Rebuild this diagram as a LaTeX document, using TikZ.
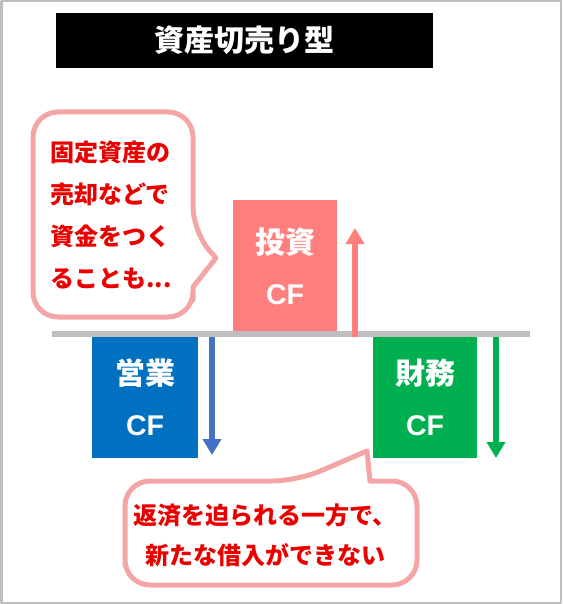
\documentclass[tikz,border=0pt]{standalone}
\usepackage{fontspec}
\newfontfamily\cjk{Noto Sans CJK JP}
\newfontfamily\latin{Liberation Sans}
\usetikzlibrary{arrows.meta,positioning}
\definecolor{framegray}{RGB}{191,191,191}
\definecolor{balloon}{RGB}{244,166,166}
\definecolor{investred}{RGB}{255,127,127}
\definecolor{operblue}{RGB}{0,112,192}
\definecolor{operarrow}{RGB}{68,114,196}
\definecolor{financegreen}{RGB}{0,176,80}
\definecolor{notered}{RGB}{235,0,0}
\newcommand{\cflabel}[1]{#1\\{\latin\fontsize{28.5}{51}\selectfont CF}}
\tikzset{
	cfbox/.style={minimum width=104pt, minimum height=121pt, inner sep=0pt, align=center, text=white, font=\cjk\bfseries\fontsize{30}{51}\selectfont},
	flow/.style={line width=6pt, -{Triangle[width=18pt,length=16pt]}},
	balloontext/.style={text=notered, inner sep=0pt, font=\cjk\bfseries\fontsize{24}{42}\selectfont},
	balloonline/.style={draw=balloon, line width=5pt, fill=white}
}
\begin{document}
\begin{tikzpicture}[x=1pt, y=-1pt, line join=round]
	\useasboundingbox (0,0) rectangle (562,604);
	\draw[framegray, line width=2.5pt] (1.25,1.25) rectangle (560.75,602.75);
	% title
	\node[fill=black, minimum width=377pt, minimum height=55pt, inner sep=0pt, text=white, font=\cjk\bfseries\fontsize{30}{36}\selectfont] (title) at (244.5,40.5) {資産切売り型};
	% balloons
	\draw[balloonline, rounded corners=25pt] (33,215) |- (193,112) -- (193,232) [sharp corners] -- (216,258) -- (193,287) -- (193,300) [rounded corners=25pt] |- (33,317) -- cycle;
	\draw[balloonline, rounded corners=25pt] (125,530) |- (297,481) [sharp corners] -- (367,451) -- (370,481) -- (385,481) [rounded corners=25pt] -| (417,585) -| (125,540) -- cycle;
	\node[balloontext, align=left] (sellnote) at (111,215) {固定資産の\\売却などで\\資金をつく\\ることも...};
	\node[balloontext, align=center, font=\cjk\bfseries\fontsize{24}{40}\selectfont] (loannote) at (265,535) {返済を迫られる一方で、\\新たな借入ができない};
	% cash flow boxes
	\node[cfbox, fill=investred, minimum height=132pt] (invest) at (285,266) {\cflabel{投資}};
	\node[cfbox, fill=operblue, minimum width=106pt] (oper) at (145,397.5) {\cflabel{営業}};
	\node[cfbox, fill=financegreen] (finance) at (425,397.5) {\cflabel{財務}};
	% axis and arrows
	\coordinate (axisL) at (52,334);
	\coordinate (axisR) at (530,334);
	\draw[framegray, line width=6pt] (axisL) -- (axisR);
	\coordinate (investS) at (355,337);
	\coordinate (investE) at (355,228);
	\coordinate (operS) at (212,337);
	\coordinate (operE) at (212,455);
	\coordinate (financeS) at (496,337);
	\coordinate (financeE) at (496,458);
	\draw[flow, investred] (investS) -- (investE);
	\draw[flow, operarrow] (operS) -- (operE);
	\draw[flow, financegreen] (financeS) -- (financeE);
\end{tikzpicture}
\end{document}
